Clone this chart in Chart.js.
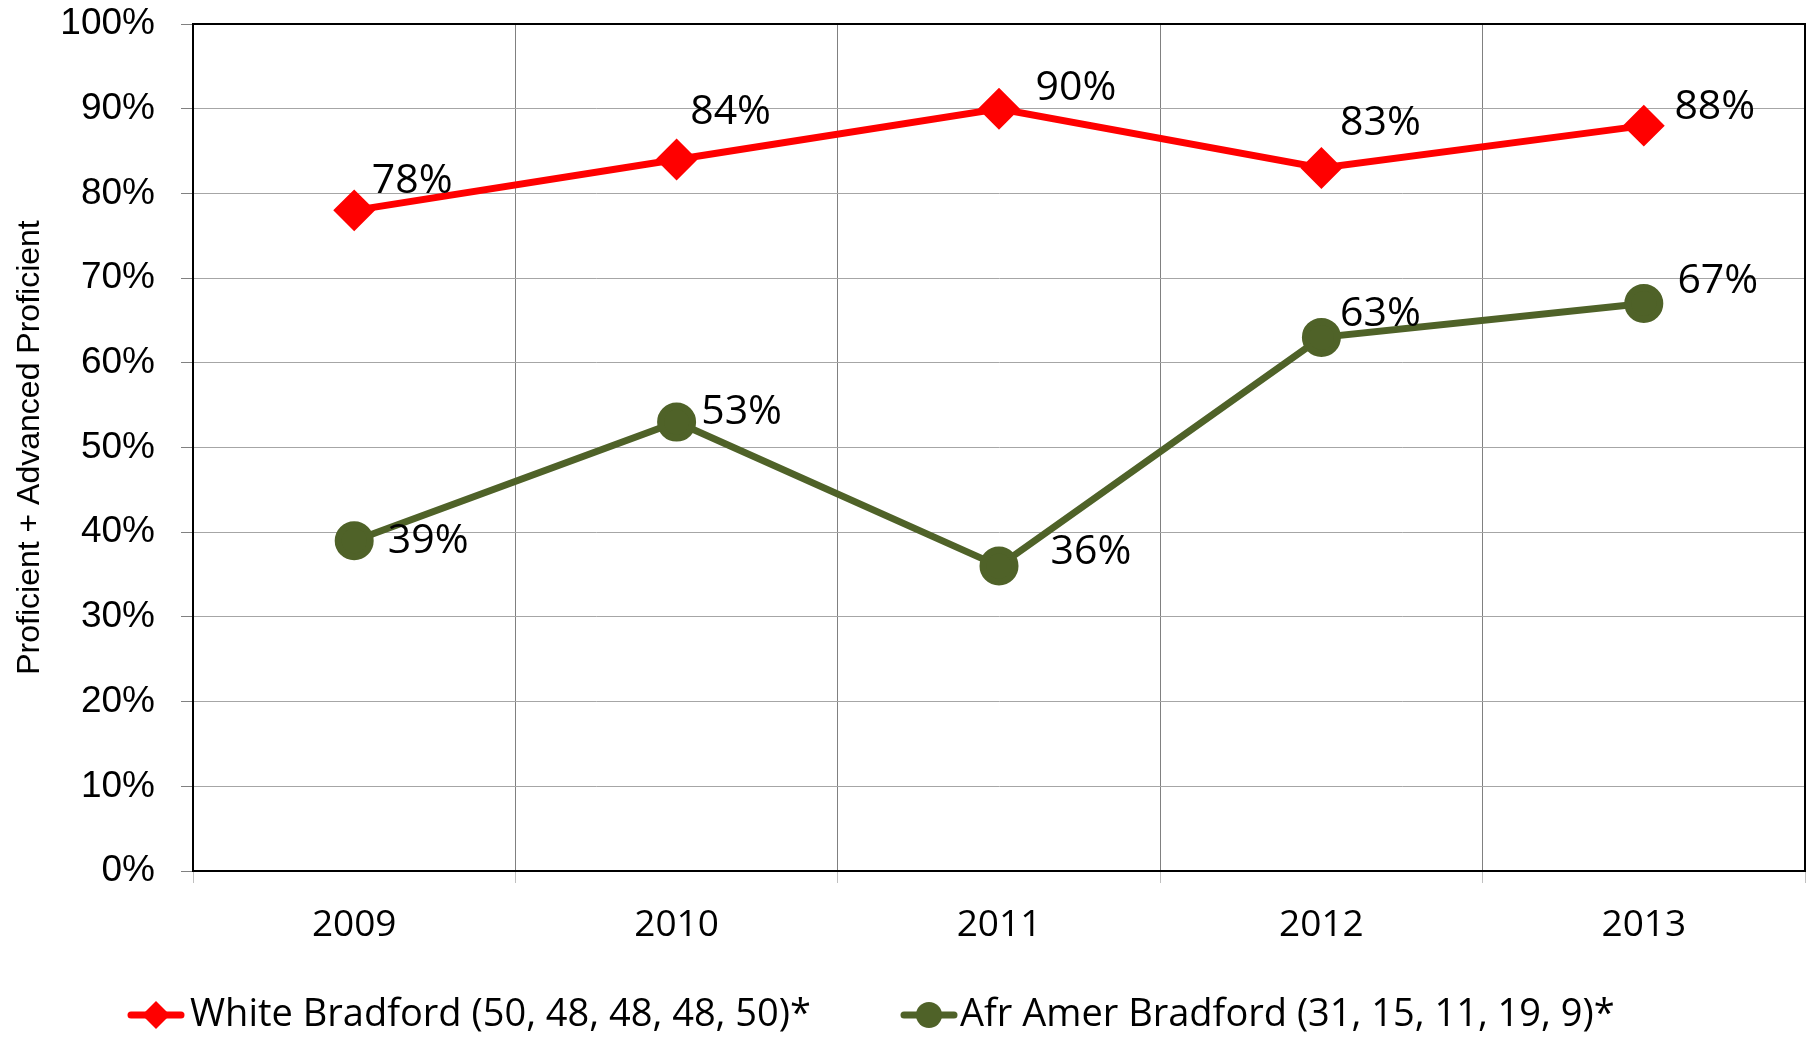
<!DOCTYPE html>
<html><head><meta charset="utf-8">
<script src="https://cdn.jsdelivr.net/npm/chart.js@4.4.1/dist/chart.umd.min.js"></script>
<style>html,body{margin:0;padding:0;background:#fff}#wrap{width:1808px;height:1037px}</style>
</head><body><div id="wrap"><canvas id="c" width="1808" height="1037"></canvas></div>
<script>
// ---- data ----
const years = ['2009', '2010', '2011', '2012', '2013'];
const whiteBradford = [78, 84, 90, 83, 88];
const afrAmerBradford = [39, 53, 36, 63, 67];
const seriesNames = ['White Bradford (50, 48, 48, 48, 50)*', 'Afr Amer Bradford (31, 15, 11, 19, 9)*'];
const yAxisTitle = 'Proficient + Advanced Proficient';

// ---- style ----
const RED = '#FF0000';
const GREEN = '#4F6228';
// label offsets (px) relative to each point
const whiteLabelOffsets = [[58, -29], [54, -47], [77, -20], [59, -45], [71, -18]];
const afrLabelOffsets = [[74, 1], [65, -10], [92, -14], [59, -23], [74, -22]];
// legend layout: icon start x, text start x, centre y
const legendItems = [{ iconX: 127, textX: 190 }, { iconX: 900, textX: 960 }];
const legendY = 1015;

const framePlugin = {
  id: 'frame',
  beforeDatasetsDraw(chart) {
    const a = chart.chartArea, ctx = chart.ctx;
    ctx.save();
    ctx.strokeStyle = '#000'; ctx.lineWidth = 2;
    ctx.strokeRect(a.left, a.top, a.right - a.left, a.bottom - a.top);
    ctx.restore();
  }
};

const labelPlugin = {
  id: 'pointLabels',
  afterDatasetsDraw(chart) {
    const ctx = chart.ctx;
    const offs = [whiteLabelOffsets, afrLabelOffsets];
    ctx.save();
    ctx.font = '41px "Open Sans"';
    ctx.fillStyle = '#000';
    ctx.textAlign = 'center';
    ctx.textBaseline = 'middle';
    chart.data.datasets.forEach((ds, di) => {
      chart.getDatasetMeta(di).data.forEach((pt, i) => {
        const o = offs[di][i];
        ctx.fillText(ds.data[i] + '%', pt.x + o[0], pt.y + o[1]);
      });
    });
    ctx.restore();
  }
};

const legendPlugin = {
  id: 'lineLegend',
  afterDraw(chart) {
    const ctx = chart.ctx;
    ctx.save();
    chart.data.datasets.forEach((ds, i) => {
      const it = legendItems[i];
      const cx = it.iconX + 29, cy = legendY;
      ctx.strokeStyle = ds.borderColor; ctx.fillStyle = ds.borderColor;
      ctx.lineWidth = 7; ctx.lineCap = 'round';
      ctx.beginPath(); ctx.moveTo(it.iconX + 4, cy); ctx.lineTo(it.iconX + 54, cy); ctx.stroke();
      ctx.beginPath();
      if (ds.pointStyle === 'rectRot') {
        ctx.moveTo(cx, cy - 14); ctx.lineTo(cx + 14, cy); ctx.lineTo(cx, cy + 14); ctx.lineTo(cx - 14, cy); ctx.closePath();
      } else {
        ctx.arc(cx, cy, 13, 0, Math.PI * 2);
      }
      ctx.fill();
      ctx.fillStyle = '#000';
      ctx.font = '38px "Open Sans"';
      ctx.textAlign = 'left'; ctx.textBaseline = 'middle';
      ctx.fillText(ds.label, it.textX, cy);
    });
    ctx.restore();
  }
};

new Chart(document.getElementById('c'), {
  type: 'line',
  data: {
    labels: years,
    datasets: [
      { label: seriesNames[0], data: whiteBradford, borderColor: RED, backgroundColor: RED,
        borderWidth: 7, pointStyle: 'rectRot', pointRadius: 16, pointHoverRadius: 16, tension: 0 },
      { label: seriesNames[1], data: afrAmerBradford, borderColor: GREEN, backgroundColor: GREEN,
        borderWidth: 7, pointStyle: 'circle', pointRadius: 16, pointHoverRadius: 16, tension: 0 }
    ]
  },
  options: {
    responsive: false,
    animation: false,
    events: [],
    layout: { autoPadding: false, padding: { left: 0, right: 3, top: 24, bottom: 60 } },
    scales: {
      x: {
        offset: true,
        grid: { offset: true, color: '#808080', lineWidth: 1, tickLength: 12, tickColor: '#c0c0c0' },
        border: { color: '#000', width: 2 },
        ticks: { color: '#000', font: { family: '"Open Sans"', size: 37 }, padding: 20 },
        afterFit(s) { s.height = 106; }
      },
      y: {
        min: 0, max: 100,
        grid: { color: '#a6a6a6', lineWidth: 1, tickLength: 12, tickColor: '#808080' },
        border: { color: '#000', width: 2 },
        ticks: { stepSize: 10, color: '#000', font: { family: '"Liberation Sans"', size: 37 }, padding: 26,
          callback: v => v + '%' },
        title: { display: true, text: yAxisTitle, color: '#000',
          font: { family: '"Liberation Sans"', size: 32 }, padding: { top: 11, bottom: 0 } },
        afterFit(s) { s.width = 193; s.paddingTop = 0; s.paddingBottom = 0; }
      }
    },
    plugins: {
      legend: { display: false },
      tooltip: { enabled: false }
    }
  },
  plugins: [framePlugin, labelPlugin, legendPlugin]
});
</script></body></html>
